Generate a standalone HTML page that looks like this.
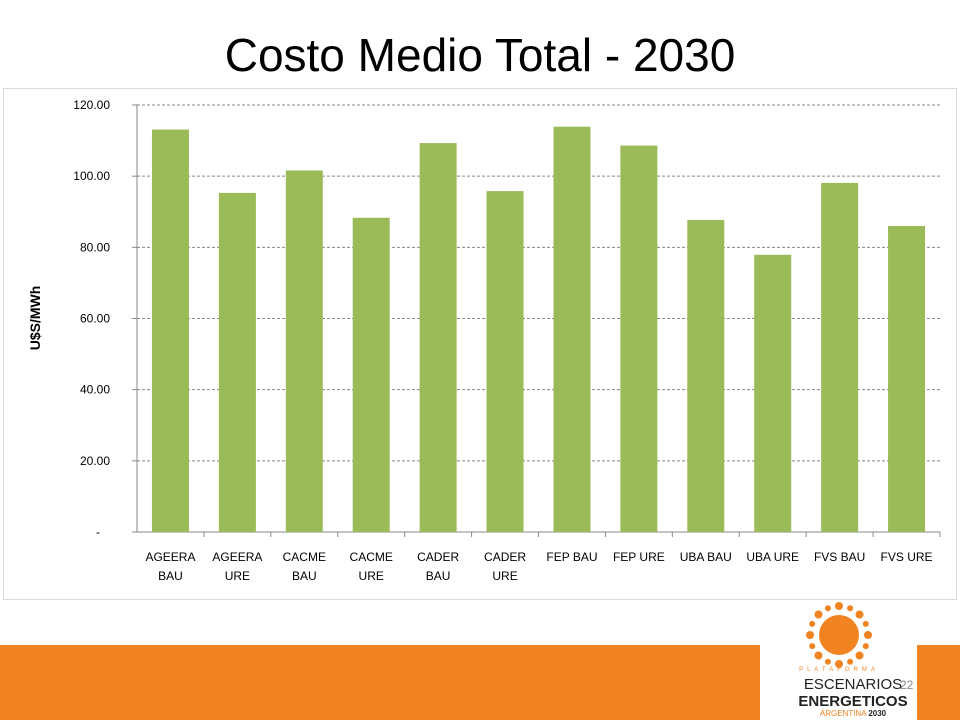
<!DOCTYPE html>
<html><head><meta charset="utf-8"><style>
body{margin:0;width:960px;height:720px;background:#fff;overflow:hidden;font-family:"Liberation Sans",sans-serif;position:relative}
#title{position:absolute;top:28px;left:0;width:960px;text-align:center;font-size:46px;color:#000}
</style></head><body>
<div id="title">Costo Medio Total - 2030</div>
<svg width="960" height="720" style="position:absolute;left:0;top:0" id="svg">
<rect x="3.5" y="88.5" width="953" height="511" fill="#fff" stroke="#d9d9d9"/>
<g id="grid"></g><g id="bars"></g><g id="labels"></g>
<text transform="translate(40,318) rotate(-90)" text-anchor="middle" font-size="14" font-weight="bold">U$S/MWh</text>
<rect x="0" y="645" width="760" height="75" fill="#f28321"/>
<rect x="917" y="645" width="43" height="75" fill="#f28321"/>
<g>
<circle cx="839" cy="635" r="20" fill="#f28321"/>
<g id="rays"></g>
<text x="839" y="671" text-anchor="middle" font-size="6" fill="#f28321" letter-spacing="4">PLATAFORMA</text>
<text x="853" y="689" text-anchor="middle" font-size="15" fill="#222">ESCENARIOS</text>
<text x="900" y="689" font-size="12" fill="#888">22</text>
<text x="853" y="706" text-anchor="middle" font-size="15" font-weight="bold" fill="#222">ENERGETICOS</text>
<text x="853" y="716" text-anchor="middle" font-size="8" fill="#f28321">ARGENTINA <tspan fill="#222" font-weight="bold">2030</tspan></text>
</g>
</svg>
<script>
const categories=["AGEERA|BAU","AGEERA|URE","CACME|BAU","CACME|URE","CADER|BAU","CADER|URE","FEP BAU","FEP URE","UBA BAU","UBA URE","FVS BAU","FVS URE"];
const values=[113.1,95.3,101.6,88.3,109.3,95.8,113.9,108.6,87.7,77.9,98.1,86.0];
const ticks=[0,20,40,60,80,100,120];
const tickLabels=["-","20.00","40.00","60.00","80.00","100.00","120.00"];
const NS="http://www.w3.org/2000/svg";
const x0=137,x1=940,yb=532,yt=105,ymax=120;
const y=v=>yb-(v/ymax)*(yb-yt);
const step=(x1-x0)/categories.length;
const xc=i=>x0+step*(i+0.5);
function mk(t,a,p){const e=document.createElementNS(NS,t);for(const k in a)e.setAttribute(k,a[k]);document.getElementById(p).appendChild(e);return e;}
ticks.forEach((t,i)=>{
 if(t>0){const l=mk('line',{x1:x0,x2:x1,y1:y(t),y2:y(t),stroke:'#888','stroke-dasharray':'3,2'},'grid');
 
 }
 mk('line',{x1:x0-5,x2:x0,y1:y(t),y2:y(t),stroke:'#888'},'grid');
 const tx=mk('text',{x:t>0?110:100,y:y(t)+4,'text-anchor':'end','font-size':'12'},'grid');
 tx.textContent=tickLabels[i];
 
 
});
mk('line',{x1:x0,x2:x0,y1:yt,y2:yb,stroke:'#888'},'grid');
mk('line',{x1:x0,x2:x1,y1:yb,y2:yb,stroke:'#888'},'grid');
categories.forEach((c,i)=>{
 const w=37;
 const r=mk('rect',{x:xc(i)-w/2,y:y(values[i]),width:w,height:yb-y(values[i]),fill:'#9bbb59'},'bars');
 
 
 mk('line',{x1:x0+step*(i+1),x2:x0+step*(i+1),y1:yb,y2:yb+5,stroke:'#888'},'grid');
 const parts=c.split('|');
 parts.forEach((p,j)=>{
  const t=mk('text',{x:xc(i),y:561+j*19,'text-anchor':'middle','font-size':'12'},'labels');
  t.textContent=p;
  
  
 });
});
for(let k=0;k<16;k++){const a=k/16*2*Math.PI;
 mk('circle',{cx:839+29*Math.cos(a),cy:635+29*Math.sin(a),r:k%2?3:4,fill:'#f28321'},'rays');}
</script>
</body></html>
